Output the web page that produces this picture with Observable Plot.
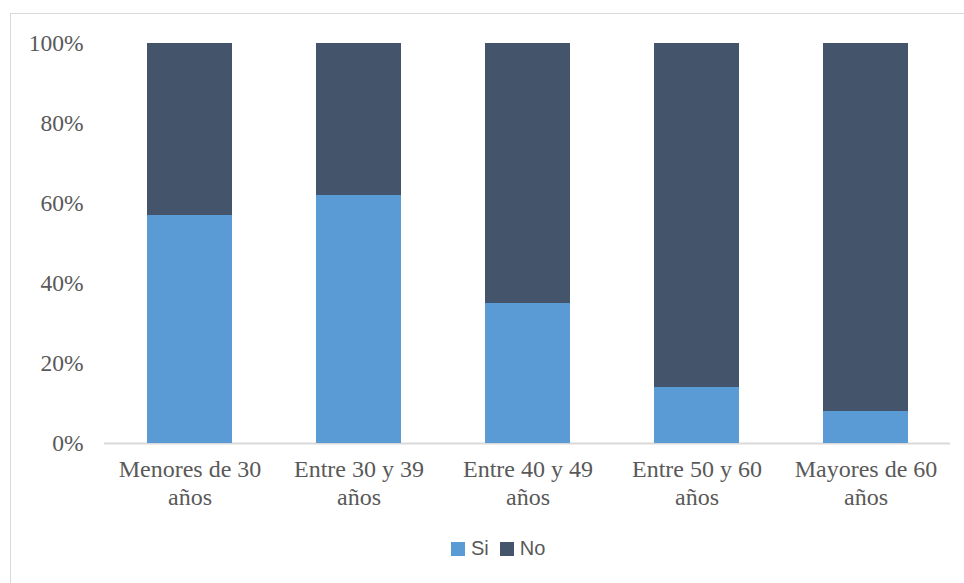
<!DOCTYPE html>
<html>
<head>
<meta charset="utf-8">
<script src="https://cdn.jsdelivr.net/npm/d3@7"></script>
<script src="https://cdn.jsdelivr.net/npm/@observablehq/plot@0.6"></script>
<style>
  html, body { margin: 0; padding: 0; background: #fff; }
  #chart {
    position: relative;
    width: 964px;
    height: 583px;
    overflow: hidden;
  }
  #frame {
    position: absolute;
    left: 10px;
    top: 13px;
    width: 1000px;
    height: 600px;
    border-left: 1.5px solid #d9d9d9;
    border-top: 1.5px solid #d9d9d9;
    box-sizing: border-box;
  }
  #plot { position: absolute; left: 0; top: 0; }
  #legend {
    position: absolute;
    left: 451px;
    top: 537px;
    display: flex;
    align-items: center;
    font-family: "Liberation Sans", Arial, sans-serif;
    font-size: 20px;
    color: #595959;
  }
  #legend .item { display: flex; align-items: center; margin-right: 11px; }
  #legend .sw { width: 14px; height: 14px; margin-right: 6px; }
</style>
</head>
<body>
<div id="chart">
  <div id="frame"></div>
  <div id="plot"></div>
  <div id="legend"></div>
</div>
<script>
// Age groups on the x axis
const categories = [
  "Menores de 30 años",
  "Entre 30 y 39 años",
  "Entre 40 y 49 años",
  "Entre 50 y 60 años",
  "Mayores de 60 años"
];

// Share of answers per age group (%)
const si = [57, 62, 35, 14, 8];
const no = [43, 38, 65, 86, 92];

const series = ["Si", "No"];
const colors = ["#5b9bd5", "#44546a"];

const yTicks = [0, 20, 40, 60, 80, 100];

const rows = [];
categories.forEach((c, i) => {
  rows.push({group: c, answer: "Si", value: si[i]});
  rows.push({group: c, answer: "No", value: no[i]});
});

const serif = "Liberation Serif, Times New Roman, serif";

const plot = Plot.plot({
  width: 964,
  height: 520,
  marginLeft: 104,
  marginRight: 14,
  marginTop: 43,
  marginBottom: 77,
  style: {background: "transparent", fontFamily: serif},
  x: {domain: categories, paddingInner: 0.5, paddingOuter: 0.25, label: null},
  y: {domain: [0, 100], label: null},
  color: {domain: series, range: colors},
  marks: [
    Plot.ruleY([0], {stroke: "#d9d9d9", strokeWidth: 2}),
    Plot.barY(rows, {
      x: "group",
      y: "value",
      fill: "answer",
      order: series
    }),
    Plot.axisY({
      ticks: yTicks,
      tickFormat: d => d + "%",
      tickSize: 0,
      tickPadding: 21,
      fontSize: 23.5,
      fontFamily: serif,
      fill: "#595959",
      label: null
    }),
    Plot.axisX({
      tickFormat: d => d.replace(/ años$/, "\naños"),
      tickSize: 0,
      tickPadding: 14,
      fontSize: 24,
      fontFamily: serif,
      lineHeight: 1.16,
      fill: "#595959",
      label: null
    })
  ]
});
document.getElementById("plot").appendChild(plot);

// Legend below the chart
const legend = document.getElementById("legend");
series.forEach((s, i) => {
  const item = document.createElement("div");
  item.className = "item";
  const sw = document.createElement("div");
  sw.className = "sw";
  sw.style.background = colors[i];
  const label = document.createElement("span");
  label.textContent = s;
  item.appendChild(sw);
  item.appendChild(label);
  legend.appendChild(item);
});
</script>
</body>
</html>
